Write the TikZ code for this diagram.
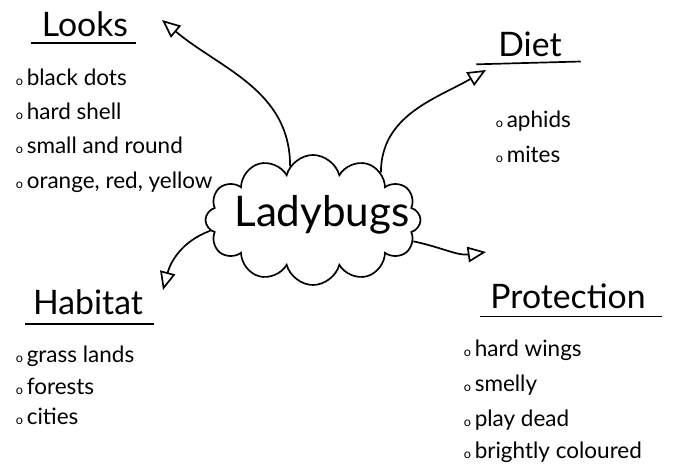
\documentclass[tikz,border=0pt]{standalone}
\usepackage{fontspec}
\setmainfont{Lato}
\usepackage{tikz}
\usetikzlibrary{arrows.meta,shapes.symbols,positioning}
\newcommand{\bul}{{\fontsize{9}{9}\selectfont o}\,}
\tikzset{
  title/.style={font=\fontsize{24}{28}\selectfont, inner sep=1pt},
  item/.style={font=\fontsize{16}{19}\selectfont, anchor=base west, inner sep=0pt},
  link/.style={-{Triangle[open,length=13pt,width=11pt]}, line width=1.2pt},
}

\begin{document}
\begin{tikzpicture}[x=0.025cm, y=-0.025cm, line width=1.2pt]
  \useasboundingbox (0,0) rectangle (696,471);
  % centre
  \node[cloud, cloud puffs=12, cloud ignores aspect, draw, inner sep=0pt, minimum width=215*0.025cm, minimum height=130*0.025cm] (bugs) at (313,220) {};
  \node[font=\fontsize{30}{34}\selectfont] (bugsname) at (322,215) {Ladybugs};
  % looks
  \node[title] (looks) at (85,24) {Looks};
  \draw ([xshift=-6pt,yshift=-3pt]looks.south west) -- ([xshift=4pt,yshift=-3pt]looks.south east);
  \node[item] (l1) at (15,86) {\bul black dots};
  \node[item] (l2) at (15,120) {\bul hard shell};
  \node[item] (l3) at (15,154) {\bul small and round};
  \node[item] (l4) at (15,189) {\bul orange, red, yellow};
  % diet
  \node[title] (diet) at (530,44) {Diet};
  \draw ([xshift=-14pt,yshift=-4pt]diet.south west) -- ([xshift=12pt,yshift=-2pt]diet.south east);
  \node[item] (d1) at (495,128) {\bul aphids};
  \node[item] (d2) at (495,163) {\bul mites};
  % habitat
  \node[title] (hab) at (88,302) {Habitat};
  \draw ([xshift=-4pt,yshift=-5pt]hab.south west) -- ([xshift=6pt,yshift=-5pt]hab.south east);
  \node[item] (h1) at (15,363) {\bul grass lands};
  \node[item] (h2) at (15,394) {\bul forests};
  \node[item] (h3) at (15,424) {\bul cities};
  % protection
  \node[title] (prot) at (568,296) {Protection};
  \draw ([xshift=-6pt,yshift=-4pt]prot.south west) -- ([xshift=10pt,yshift=-4pt]prot.south east);
  \node[item] (p1) at (463,356) {\bul hard wings};
  \node[item] (p2) at (463,391) {\bul smelly};
  \node[item] (p3) at (463,426) {\bul play dead};
  \node[item] (p4) at (463,458) {\bul brightly coloured};
  % arrow ends
  \coordinate (tolooks) at (162,20);
  \coordinate (todiet) at (486,70);
  \coordinate (tohab) at (163,290);
  \coordinate (toprot) at (486,252);
  \draw[link] (bugs.113) to[out=90, in=-40] (tolooks);
  \draw[link] (bugs.35) to[out=90, in=210] (todiet);
  \draw[link] (bugs.-12) to[out=-12, in=188] (toprot);
  \draw[link] (bugs.186) to[out=200, in=75] (tohab);
\end{tikzpicture}
\end{document}
